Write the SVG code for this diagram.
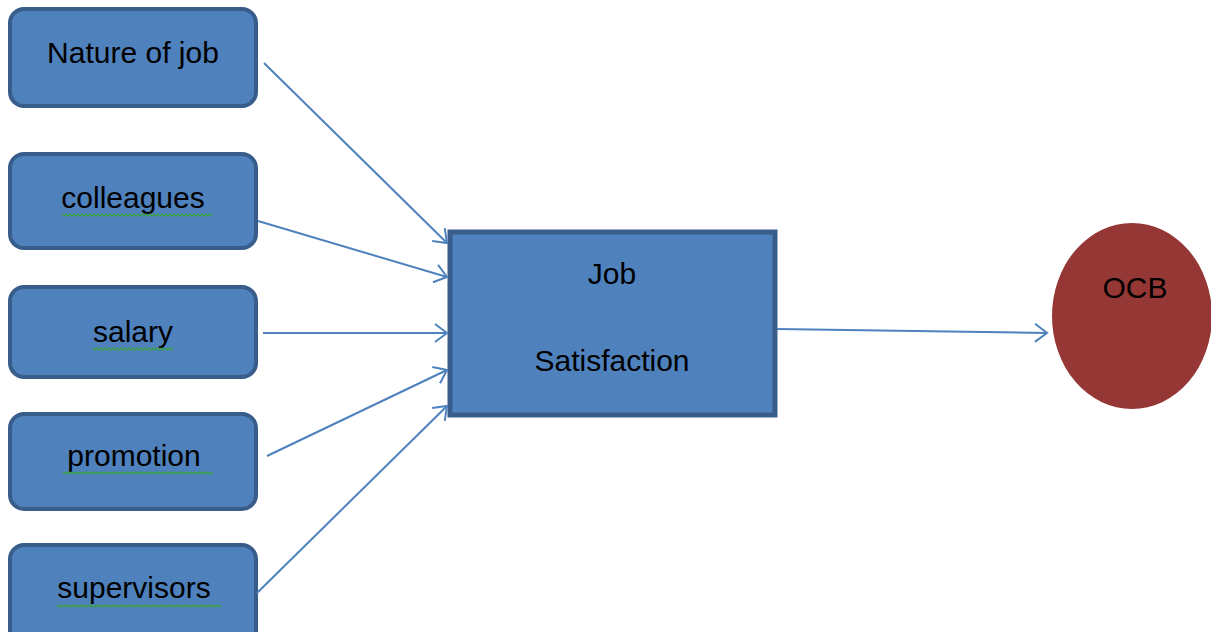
<svg xmlns="http://www.w3.org/2000/svg" width="1211" height="632" viewBox="0 0 1211 632">
<style>
.box{fill:#4f81bd;stroke:#385d8a;stroke-width:4}
.main{fill:#4f81bd;stroke:#385d8a;stroke-width:5}
.lbl{font-family:"Liberation Sans",Arial,sans-serif;font-size:30px;fill:#000;text-anchor:middle}
.sq{fill:none;stroke:#3aa33a;stroke-width:1.2}
.con{stroke:#4f81bd;stroke-width:2;fill:none;marker-end:url(#arr)}
</style>
<defs>
<marker id="arr" markerWidth="18" markerHeight="20" refX="14" refY="10" orient="auto" markerUnits="userSpaceOnUse">
<path d="M2,1 L14,10 L2,19" fill="none" stroke="#4f81bd" stroke-width="2"/>
</marker>
</defs>
<rect width="1211" height="632" fill="#fff"/>
<g id="nature">
<rect class="box" x="10" y="9" width="246" height="97" rx="14"/>
<text class="lbl" x="133" y="63">Nature of job</text>
</g>
<g id="colleagues">
<rect class="box" x="10" y="154" width="246" height="94" rx="14"/>
<text class="lbl" x="133" y="208">colleagues</text>
<path class="sq" d="M62,214 l2,2 l2,-2 l2,2 l2,-2 l2,2 l2,-2 l2,2 l2,-2 l2,2 l2,-2 l2,2 l2,-2 l2,2 l2,-2 l2,2 l2,-2 l2,2 l2,-2 l2,2 l2,-2 l2,2 l2,-2 l2,2 l2,-2 l2,2 l2,-2 l2,2 l2,-2 l2,2 l2,-2 l2,2 l2,-2 l2,2 l2,-2 l2,2 l2,-2 l2,2 l2,-2 l2,2 l2,-2 l2,2 l2,-2 l2,2 l2,-2 l2,2 l2,-2 l2,2 l2,-2 l2,2 l2,-2 l2,2 l2,-2 l2,2 l2,-2 l2,2 l2,-2 l2,2 l2,-2 l2,2 l2,-2 l2,2 l2,-2 l2,2 l2,-2 l2,2 l2,-2 l2,2 l2,-2 l2,2 l2,-2 l2,2 l2,-2 l2,2 l2,-2 l2,2"/>
</g>
<g id="salary">
<rect class="box" x="10" y="287" width="246" height="90" rx="14"/>
<text class="lbl" x="133" y="342">salary</text>
<path class="sq" d="M93,348 l2,2 l2,-2 l2,2 l2,-2 l2,2 l2,-2 l2,2 l2,-2 l2,2 l2,-2 l2,2 l2,-2 l2,2 l2,-2 l2,2 l2,-2 l2,2 l2,-2 l2,2 l2,-2 l2,2 l2,-2 l2,2 l2,-2 l2,2 l2,-2 l2,2 l2,-2 l2,2 l2,-2 l2,2 l2,-2 l2,2 l2,-2 l2,2 l2,-2 l2,2 l2,-2 l2,2 l2,-2"/>
</g>
<g id="promotion">
<rect class="box" x="10" y="414" width="246" height="95" rx="14"/>
<text class="lbl" x="134" y="466">promotion</text>
<path class="sq" d="M63,472 l2,2 l2,-2 l2,2 l2,-2 l2,2 l2,-2 l2,2 l2,-2 l2,2 l2,-2 l2,2 l2,-2 l2,2 l2,-2 l2,2 l2,-2 l2,2 l2,-2 l2,2 l2,-2 l2,2 l2,-2 l2,2 l2,-2 l2,2 l2,-2 l2,2 l2,-2 l2,2 l2,-2 l2,2 l2,-2 l2,2 l2,-2 l2,2 l2,-2 l2,2 l2,-2 l2,2 l2,-2 l2,2 l2,-2 l2,2 l2,-2 l2,2 l2,-2 l2,2 l2,-2 l2,2 l2,-2 l2,2 l2,-2 l2,2 l2,-2 l2,2 l2,-2 l2,2 l2,-2 l2,2 l2,-2 l2,2 l2,-2 l2,2 l2,-2 l2,2 l2,-2 l2,2 l2,-2 l2,2 l2,-2 l2,2 l2,-2 l2,2 l2,-2 l2,2"/>
</g>
<g id="supervisors">
<rect class="box" x="10" y="545" width="246" height="100" rx="14"/>
<text class="lbl" x="134" y="598">supervisors</text>
<path class="sq" d="M57,605 l2,2 l2,-2 l2,2 l2,-2 l2,2 l2,-2 l2,2 l2,-2 l2,2 l2,-2 l2,2 l2,-2 l2,2 l2,-2 l2,2 l2,-2 l2,2 l2,-2 l2,2 l2,-2 l2,2 l2,-2 l2,2 l2,-2 l2,2 l2,-2 l2,2 l2,-2 l2,2 l2,-2 l2,2 l2,-2 l2,2 l2,-2 l2,2 l2,-2 l2,2 l2,-2 l2,2 l2,-2 l2,2 l2,-2 l2,2 l2,-2 l2,2 l2,-2 l2,2 l2,-2 l2,2 l2,-2 l2,2 l2,-2 l2,2 l2,-2 l2,2 l2,-2 l2,2 l2,-2 l2,2 l2,-2 l2,2 l2,-2 l2,2 l2,-2 l2,2 l2,-2 l2,2 l2,-2 l2,2 l2,-2 l2,2 l2,-2 l2,2 l2,-2 l2,2 l2,-2 l2,2 l2,-2 l2,2 l2,-2 l2,2 l2,-2"/>
</g>
<g id="job-satisfaction">
<rect class="main" x="450" y="232" width="325" height="183"/>
<text class="lbl" x="612" y="284">Job</text>
<text class="lbl" x="612" y="371">Satisfaction</text>
</g>
<g id="ocb">
<ellipse cx="1132" cy="316" rx="80" ry="93" fill="#953735"/>
<text class="lbl" x="1135" y="298">OCB</text>
</g>
<g id="connectors">
<line class="con" x1="264" y1="63" x2="447" y2="243"/>
<line class="con" x1="258" y1="221" x2="447" y2="277"/>
<line class="con" x1="263" y1="333" x2="447" y2="333"/>
<line class="con" x1="267" y1="456" x2="447" y2="370"/>
<line class="con" x1="257" y1="593" x2="447" y2="406"/>
<line class="con" x1="777" y1="329" x2="1047" y2="333"/>
</g>
</svg>
